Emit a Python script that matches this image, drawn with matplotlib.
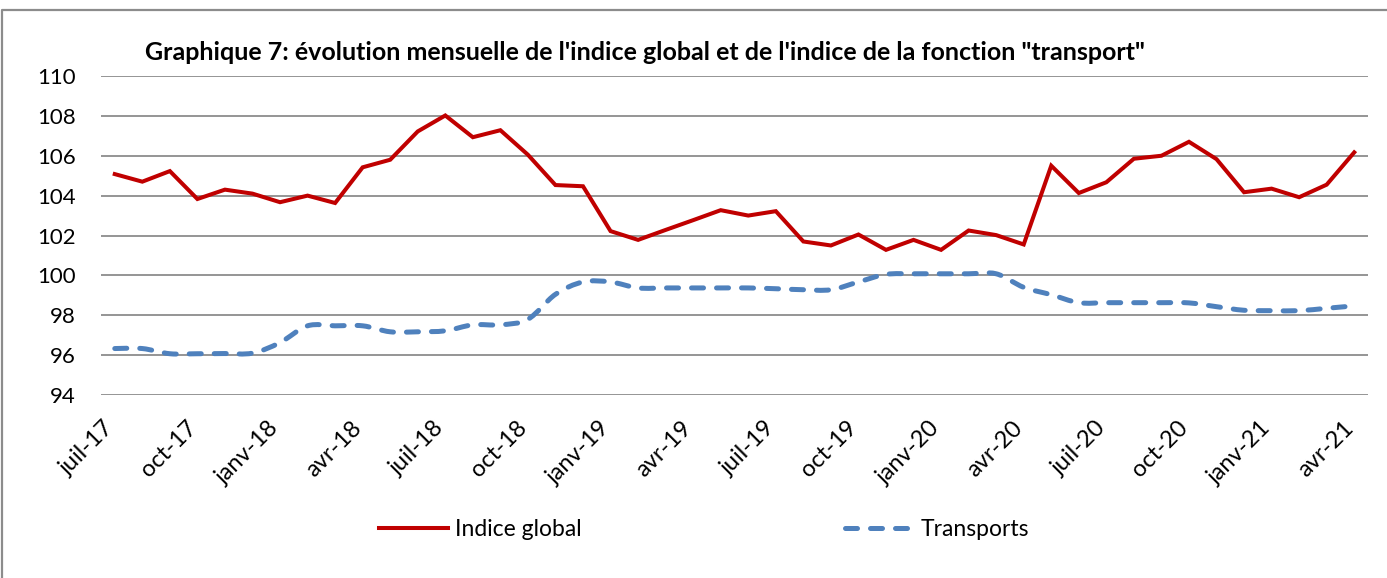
import numpy as np
import matplotlib
matplotlib.use("Agg")
import matplotlib.pyplot as plt
import matplotlib.transforms as mtransforms
from matplotlib.path import Path
from matplotlib.patches import PathPatch
from matplotlib.lines import Line2D

# donnees (juil-17 a avr-21, mensuel)
mois = ["juil-17", "oct-17", "janv-18", "avr-18", "juil-18", "oct-18", "janv-19", "avr-19",
        "juil-19", "oct-19", "janv-20", "avr-20", "juil-20", "oct-20", "janv-21", "avr-21"]

indice_global = [105.08, 104.70, 105.23, 103.83, 104.30, 104.10, 103.67, 104.00, 103.63,
                 105.42, 105.80, 107.22, 108.02, 106.93, 107.28, 106.05, 104.53, 104.47,
                 102.22, 101.78, 102.28, 102.77, 103.27, 103.00, 103.22, 101.70, 101.50,
                 102.05, 101.28, 101.78, 101.28, 102.25, 102.02, 101.55, 105.50, 104.13,
                 104.67, 105.85, 106.00, 106.70, 105.83, 104.17, 104.35, 103.92, 104.55,
                 106.17]

transports = [96.33, 96.33, 96.07, 96.07, 96.08, 96.10, 96.63, 97.47, 97.47, 97.47,
              97.17, 97.17, 97.22, 97.52, 97.52, 97.80, 99.05, 99.67, 99.67, 99.37,
              99.37, 99.37, 99.37, 99.37, 99.33, 99.28, 99.28, 99.67, 100.05, 100.08,
              100.08, 100.08, 100.08, 99.40, 99.03, 98.63, 98.63, 98.63, 98.63, 98.62,
              98.43, 98.25, 98.23, 98.23, 98.35, 98.47]

rouge = "#C00000"
bleu = "#4F81BD"
gris = "#8C8C8C"
police = "Lato"

plt.rcParams['font.family'] = [police, 'DejaVu Sans']

fig = plt.figure(figsize=(13.87, 5.78), dpi=100)
ax = fig.add_axes([101 / 1387, 1 - 395 / 578, (1368 - 101) / 1387, (395 - 76) / 578])

x = np.arange(len(indice_global))

# courbe lissee (comme Excel) pour les transports : bezier catmull-rom
pts = np.column_stack([x, transports])
verts = [pts[0]]
codes = [Path.MOVETO]
for i in range(len(pts) - 1):
    p0 = pts[max(i - 1, 0)]
    p1 = pts[i]
    p2 = pts[i + 1]
    p3 = pts[min(i + 2, len(pts) - 1)]
    c1 = p1 + (p2 - p0) / 6
    c2 = p2 - (p3 - p1) / 6
    verts += [c1, c2, p2]
    codes += [Path.CURVE4] * 3
courbe = PathPatch(Path(verts, codes), fill=False, edgecolor=bleu, lw=3.6,
                   linestyle=(0, (2.4, 2.6)), zorder=3)
courbe.set_capstyle('round')
ax.add_patch(courbe)

ax.plot(x, indice_global, color=rouge, lw=2.9, zorder=4, solid_joinstyle='miter')

ax.set_xlim(-0.5, len(x) - 0.5)
ax.set_ylim(94, 110)
ax.set_yticks(np.arange(94, 111, 2))
ax.grid(axis='y', color=gris, lw=1.3)
ax.set_axisbelow(True)
for s in ax.spines.values():
    s.set_visible(False)
ax.tick_params(axis='both', length=0, labelsize=16, colors='black')
ax.tick_params(axis='y', pad=18)
ax.set_xticks(x[::3])
# coin haut-droit du texte tourne place sous chaque categorie
ax.set_xticklabels(mois, rotation=45, ha='right', va='top', rotation_mode='default', fontsize=17)
ax.tick_params(axis='x', pad=16)
decalage = mtransforms.ScaledTranslation(3 / 100, 0, fig.dpi_scale_trans)
for lab in ax.get_xticklabels():
    lab.set_transform(lab.get_transform() + decalage)

fig.text(645 / 1387, 1 - 60 / 578,
         "Graphique 7: évolution mensuelle de l'indice global et de l'indice de la fonction \"transport\"",
         ha='center', va='baseline', fontsize=18, fontweight='bold')

h1 = Line2D([], [], color=rouge, lw=2.9)
h2 = Line2D([], [], color=bleu, lw=3.6, linestyle=(0, (2.4, 2.6)), dash_capstyle='round')
fig.legend([h1, h2], ["Indice global", "Transports"], loc='center',
           bbox_to_anchor=(704 / 1387, 1 - 530 / 578), ncol=2, frameon=False,
           fontsize=16.5, handlelength=3.0, handletextpad=0.3, columnspacing=11.5)

# cadre du graphique
fig.add_artist(Line2D([2 / 1387, 2 / 1387, 1.0], [0.0, 1 - 10 / 578, 1 - 10 / 578],
                      transform=fig.transFigure, color=gris, lw=1.6))

fig.savefig("out.png", dpi=100)
